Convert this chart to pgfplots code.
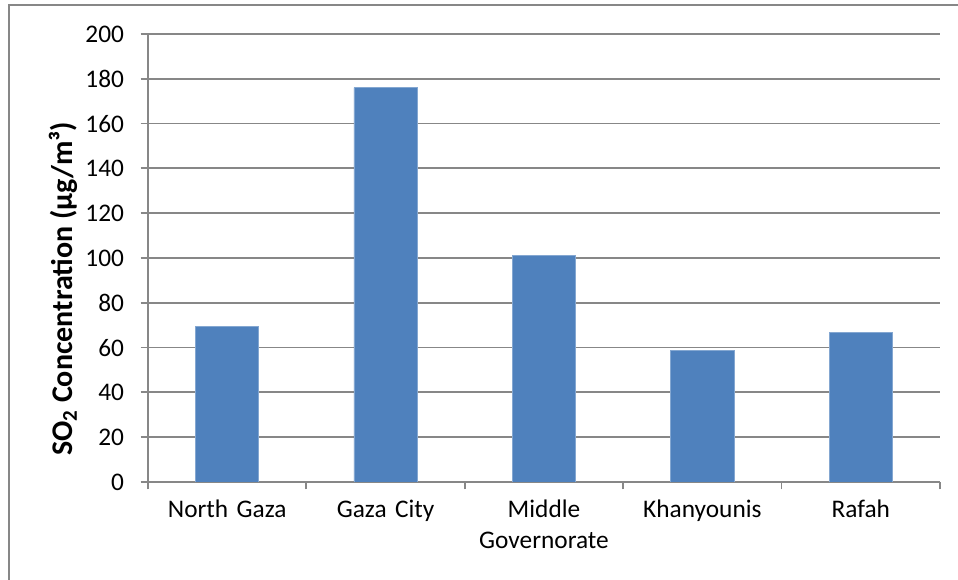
\documentclass[border=0pt]{standalone}
\usepackage{pgfplots}
\pgfplotsset{compat=1.18}
\usepackage{fontspec}
\setmainfont{Carlito}
\definecolor{barblue}{HTML}{4F81BD}
\definecolor{gridgray}{HTML}{878787}
\begin{document}
\begin{tikzpicture}[x=0.75pt,y=0.75pt]
\useasboundingbox (0,0) rectangle (958,580);
\draw[gridgray,line width=1.5pt] (9,0) -- (9,574.5) -- (958,574.5);
\begin{axis}[
  at={(111pt,73.5pt)}, anchor=south west,
  scale only axis,
  width=594pt, height=336pt,
  xmin=-0.5, xmax=4.5, ymin=0, ymax=200,
  ytick={0,20,...,200},
  xtick={-0.5,0.5,...,4.5},
  xticklabels={},
  extra x ticks={0,1,2,3,4},
  extra x tick labels={North Gaza,Gaza City,{Middle\\Governorate},Khanyounis,Rafah},
  extra x tick style={major tick length=0pt, grid=none,
     tick label style={align=center, text width=150pt, yshift=-10pt}},
  ymajorgrids,
  grid style={gridgray, line width=1.35pt},
  axis x line*=bottom, axis y line*=left,
  axis line style={gridgray, line width=1.35pt, -},
  tick style={gridgray, line width=1.35pt},
  major tick length=5.5pt,
  tick align=outside,
  xtick pos=bottom, ytick pos=left,
  tick label style={font=\fontsize{19}{23}\selectfont, text=black},
  yticklabel style={xshift=-9pt},
  /pgf/number format/assume math mode=true,
  ylabel={\textbf{SO\textsubscript{2} Concentration (µg/m³)}},
  ylabel style={font=\fontsize{22.5}{26}\selectfont, yshift=-1pt, xshift=-23pt},
  bar width=47.5pt,
]
\addplot[ybar, fill=barblue, draw=barblue!70!white, line width=0.6pt] coordinates {
 (0,69.5) (1,176) (2,101) (3,58.7) (4,66.6)
};
\end{axis}
\end{tikzpicture}
\end{document}
